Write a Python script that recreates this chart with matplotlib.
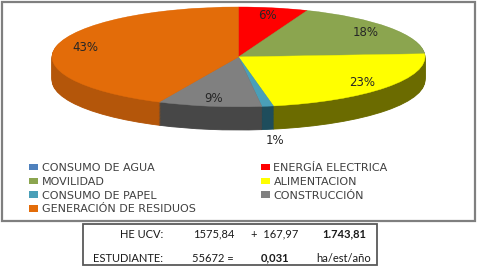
import numpy as np
import matplotlib
matplotlib.use('Agg')
from matplotlib import pyplot as plt
from matplotlib.patches import Rectangle, Patch

# data
labels = ['CONSUMO DE AGUA', 'ENERGÍA ELECTRICA', 'MOVILIDAD', 'ALIMENTACION',
          'CONSUMO DE PAPEL', 'CONSTRUCCIÓN', 'GENERACIÓN DE RESIDUOS']
values = [0, 6, 18, 23, 1, 9, 43]
top_colors = ['#4F81BD', '#FF0000', '#8BA54F', '#FFFF00', '#4A9FB8', '#808080', '#E36C09']
side_colors = ['#2C4A6E', '#8F0000', '#4E5F2A', '#6B6B00', '#1E4D5C', '#474747', '#B4560A']

table_rows = [['HE UCV:', '1575,84', '+  167,97', '1.743,81'],
              ['ESTUDIANTE:', '55672 =', '0,031', 'ha/est/año']]
table_bold = [[False, False, False, True],
              [False, False, True, False]]

W, H = 478, 268
fig = plt.figure(figsize=(W / 100, H / 100), dpi=100)
fig.patch.set_facecolor('white')

def fx(x):
    return x / W

def fy(y):
    return 1 - y / H

# outer frame and table frame
fig.patches.append(Rectangle((fx(2), fy(221)), fx(473), 219 / H, transform=fig.transFigure,
                             fill=False, edgecolor='#7F7F7F', lw=1.6))
fig.patches.append(Rectangle((fx(83), fy(265)), fx(294), 41 / H, transform=fig.transFigure,
                             fill=False, edgecolor='#595959', lw=1.3))

# 3d-ish pie: stacked layers for the side wall, then the top face
depth = 23 / 49.5
ax = fig.add_axes([fx(52), fy(130), fx(373), 123 / H])
nlayers = 30
for k in range(nlayers, 0, -1):
    off = -depth * k / nlayers
    w, _ = ax.pie(values, colors=side_colors, startangle=90, counterclock=False,
                  center=(0, off), wedgeprops=dict(linewidth=0.6))
    for wd, c in zip(w, side_colors):
        wd.set_edgecolor(c)
w, _ = ax.pie(values, colors=top_colors, startangle=90, counterclock=False,
              wedgeprops=dict(linewidth=0.3))
for wd, c in zip(w, top_colors):
    wd.set_edgecolor(c)

# percentage labels
total = float(sum(values))
cum = 0.0
for v in values:
    mid = 90 - 360 * (cum + v / 2) / total
    cum += v
    if v == 0:
        continue
    a = np.deg2rad(mid)
    if v / total < 0.03:
        x, y = 1.25 * np.cos(a), 1.22 * np.sin(a) - depth
    else:
        x, y = 0.84 * np.cos(a), 0.84 * np.sin(a)
    ax.text(x, y, '%d%%' % round(100 * v / total), ha='center', va='center',
            fontsize=8.5, color='#262626', family='DejaVu Sans')

ax.set_aspect('auto')
ax.set_xlim(-1, 1)
ax.set_ylim(-1 - depth, 1)
ax.axis('off')

# legend, filled row by row
handles = [Patch(facecolor=c, edgecolor='none') for c in top_colors]
order = [0, 2, 4, 6, 1, 3, 5]
leg = fig.legend([handles[i] for i in order], [labels[i] for i in order], ncol=2,
                 loc='upper left', bbox_to_anchor=(fx(29), fy(163)), frameon=False,
                 fontsize=8, handlelength=0.8, handleheight=0.55, handletextpad=0.35,
                 labelspacing=0.34, columnspacing=5.85, borderpad=0, borderaxespad=0)
for t in leg.get_texts():
    t.set_color('#404040')

# summary table
col_x = [163, 234, 275, 344]
col_ha = ['right', 'right', 'center', 'center']
row_y = [234, 258]
for r, row in enumerate(table_rows):
    for c, txt in enumerate(row):
        fig.text(fx(col_x[c]), fy(row_y[r]), txt, ha=col_ha[c], va='center',
                 fontsize=8, family='Lato', color='#1A1A1A',
                 fontweight='bold' if table_bold[r][c] else 'normal')

fig.savefig('out.png', dpi=100, facecolor='white')
